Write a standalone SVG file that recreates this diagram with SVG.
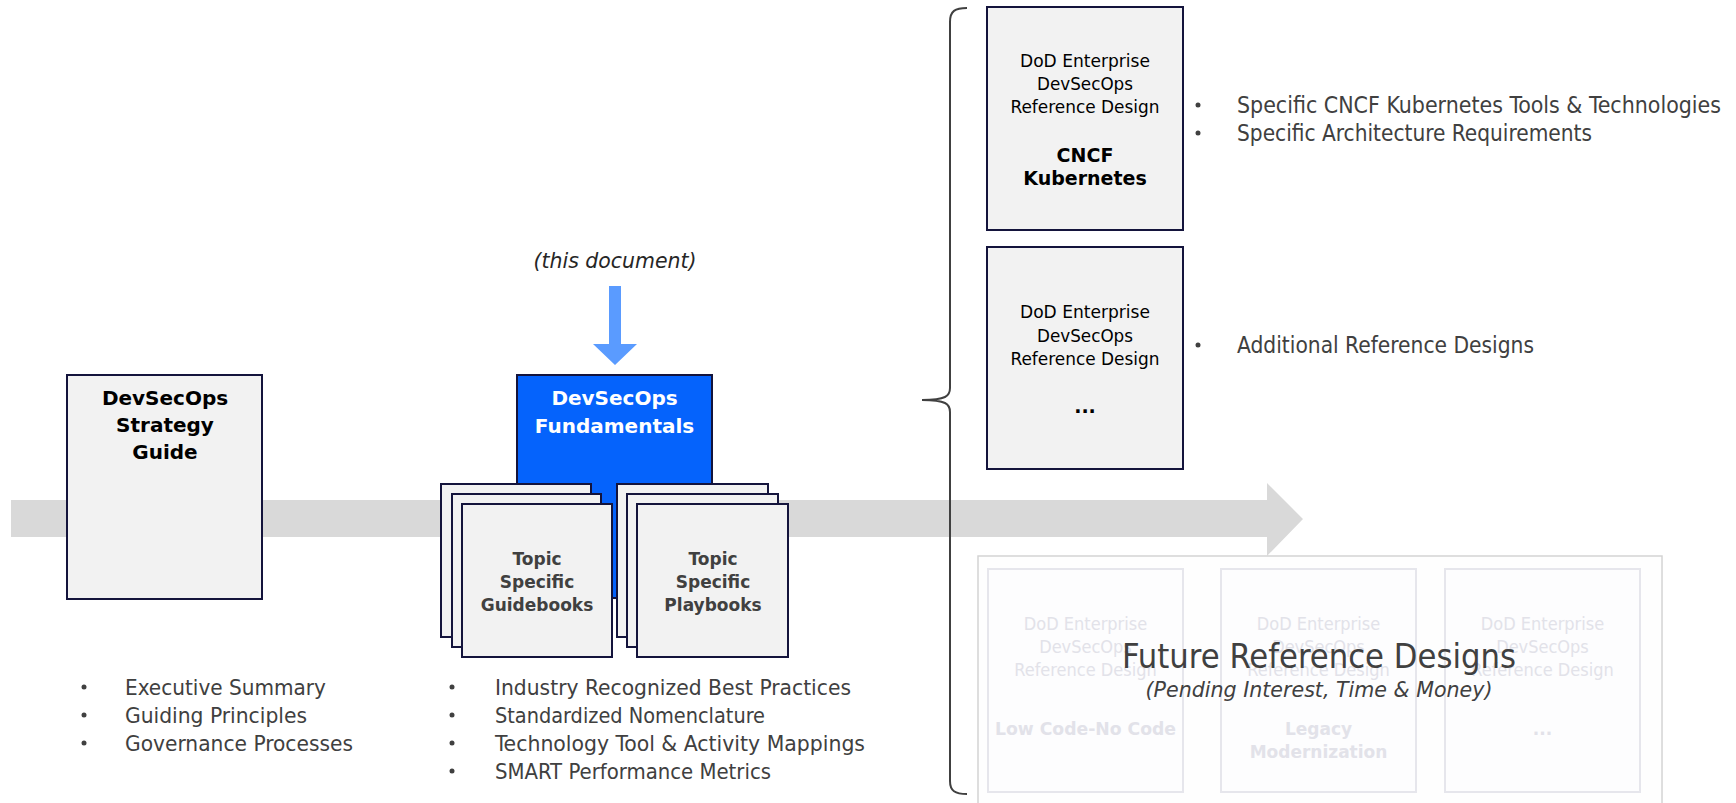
<svg xmlns="http://www.w3.org/2000/svg" width="1736" height="803" viewBox="0 0 1736 803">
<style>
.box{fill:#f2f2f2;stroke:#14143c;stroke-width:2}
.blue{fill:#0563fc;stroke:#14143c;stroke-width:2}
.faint{fill:#fdfdfe;stroke:#e6e6ec;stroke-width:2}
.reg{font-family:'DejaVu Sans Condensed','DejaVu Sans',sans-serif;font-stretch:condensed}
.bold{font-family:'DejaVu Sans','Liberation Sans',sans-serif;font-weight:bold}
.ital{font-family:'DejaVu Sans Condensed','DejaVu Sans',sans-serif;font-stretch:condensed;font-style:italic}
.dark{fill:#404040}
.blk{fill:#000}
.ft{fill:#e2e2e9}
.bul{fill:#404040}
</style>

<g id="connectors">
  <polygon fill="#d9d9d9" points="11,500 1267,500 1267,483 1303,519 1267,556 1267,537 11,537"/>
  <polygon fill="#5a9bff" points="609,286 621,286 621,344 637,344 615,365 593,344 609,344"/>
  <path fill="none" stroke="#404040" stroke-width="2" d="M967,8 C955,8 950,11 950,22 L950,388 C950,396 946,400 922,400 C946,400 950,404 950,412 L950,781 C950,791 955,794 967,794"/>
</g>

<g id="strategy-guide">
  <rect class="box" x="67" y="375" width="195" height="224"/>
  <text class="bold blk" font-size="20" text-anchor="middle" x="165" y="405">DevSecOps</text>
  <text class="bold blk" font-size="20" text-anchor="middle" x="165" y="432">Strategy</text>
  <text class="bold blk" font-size="20" text-anchor="middle" x="165" y="459">Guide</text>
</g>

<g id="this-document">
  <text class="ital" fill="#262626" font-size="21" text-anchor="middle" x="615" y="268" textLength="163" lengthAdjust="spacingAndGlyphs">(this document)</text>
</g>

<g id="fundamentals">
  <rect class="blue" x="517" y="375" width="195" height="223"/>
  <text class="bold" fill="#fff" font-size="20" text-anchor="middle" x="614.5" y="405">DevSecOps</text>
  <text class="bold" fill="#fff" font-size="20" text-anchor="middle" x="614.5" y="433">Fundamentals</text>
</g>

<g id="guidebooks">
  <rect class="box" x="441" y="484" width="150" height="153"/>
  <rect class="box" x="452" y="494" width="149" height="153"/>
  <rect class="box" x="462" y="504" width="150" height="153"/>
  <text class="bold dark" font-size="17" text-anchor="middle" x="537" y="565">Topic</text>
  <text class="bold dark" font-size="17" text-anchor="middle" x="537" y="588">Specific</text>
  <text class="bold dark" font-size="17" text-anchor="middle" x="537" y="611">Guidebooks</text>
</g>

<g id="playbooks">
  <rect class="box" x="617" y="484" width="151" height="153"/>
  <rect class="box" x="627" y="494" width="151" height="153"/>
  <rect class="box" x="637" y="504" width="151" height="153"/>
  <text class="bold dark" font-size="17" text-anchor="middle" x="713" y="565">Topic</text>
  <text class="bold dark" font-size="17" text-anchor="middle" x="713" y="588">Specific</text>
  <text class="bold dark" font-size="17" text-anchor="middle" x="713" y="611">Playbooks</text>
</g>

<g id="strategy-bullets">
  <circle class="bul" cx="84" cy="687" r="2.5"/>
  <circle class="bul" cx="84" cy="715" r="2.5"/>
  <circle class="bul" cx="84" cy="743" r="2.5"/>
  <text class="reg dark" font-size="22" x="125" y="695" textLength="201" lengthAdjust="spacingAndGlyphs">Executive Summary</text>
  <text class="reg dark" font-size="22" x="125" y="723" textLength="182" lengthAdjust="spacingAndGlyphs">Guiding Principles</text>
  <text class="reg dark" font-size="22" x="125" y="751" textLength="228" lengthAdjust="spacingAndGlyphs">Governance Processes</text>
</g>

<g id="fundamentals-bullets">
  <circle class="bul" cx="452" cy="687" r="2.5"/>
  <circle class="bul" cx="452" cy="715" r="2.5"/>
  <circle class="bul" cx="452" cy="743" r="2.5"/>
  <circle class="bul" cx="452" cy="771" r="2.5"/>
  <text class="reg dark" font-size="22" x="495" y="695" textLength="356" lengthAdjust="spacingAndGlyphs">Industry Recognized Best Practices</text>
  <text class="reg dark" font-size="22" x="495" y="723" textLength="270" lengthAdjust="spacingAndGlyphs">Standardized Nomenclature</text>
  <text class="reg dark" font-size="22" x="495" y="751" textLength="370" lengthAdjust="spacingAndGlyphs">Technology Tool &amp; Activity Mappings</text>
  <text class="reg dark" font-size="22" x="495" y="779" textLength="276" lengthAdjust="spacingAndGlyphs">SMART Performance Metrics</text>
</g>

<g id="cncf-kubernetes">
  <rect class="box" x="987" y="7" width="196" height="223"/>
  <text class="reg blk" font-size="18" text-anchor="middle" x="1085" y="67" textLength="130" lengthAdjust="spacingAndGlyphs">DoD Enterprise</text>
  <text class="reg blk" font-size="18" text-anchor="middle" x="1085" y="90" textLength="96" lengthAdjust="spacingAndGlyphs">DevSecOps</text>
  <text class="reg blk" font-size="18" text-anchor="middle" x="1085" y="113" textLength="149" lengthAdjust="spacingAndGlyphs">Reference Design</text>
  <text class="bold blk" font-size="19" text-anchor="middle" x="1085" y="162">CNCF</text>
  <text class="bold blk" font-size="19" text-anchor="middle" x="1085" y="185">Kubernetes</text>
</g>

<g id="additional-design">
  <rect class="box" x="987" y="247" width="196" height="222"/>
  <text class="reg blk" font-size="18" text-anchor="middle" x="1085" y="318" textLength="130" lengthAdjust="spacingAndGlyphs">DoD Enterprise</text>
  <text class="reg blk" font-size="18" text-anchor="middle" x="1085" y="342" textLength="96" lengthAdjust="spacingAndGlyphs">DevSecOps</text>
  <text class="reg blk" font-size="18" text-anchor="middle" x="1085" y="365" textLength="149" lengthAdjust="spacingAndGlyphs">Reference Design</text>
  <text class="bold blk" font-size="19" text-anchor="middle" x="1085" y="413">...</text>
</g>

<g id="design-bullets">
  <circle class="bul" cx="1198" cy="105" r="2.5"/>
  <circle class="bul" cx="1198" cy="133" r="2.5"/>
  <circle class="bul" cx="1198" cy="345" r="2.5"/>
  <text class="reg dark" font-size="23" x="1237" y="113" textLength="484" lengthAdjust="spacingAndGlyphs">Specific CNCF Kubernetes Tools &amp; Technologies</text>
  <text class="reg dark" font-size="23" x="1237" y="141" textLength="355" lengthAdjust="spacingAndGlyphs">Specific Architecture Requirements</text>
  <text class="reg dark" font-size="23" x="1237" y="353" textLength="297" lengthAdjust="spacingAndGlyphs">Additional Reference Designs</text>
</g>

<g id="future-designs">
  <rect x="978" y="556" width="684" height="252" fill="#fefefe" stroke="#d4d4d4" stroke-width="1.5"/>
  <g id="future-low-code">
    <rect class="faint" x="988" y="569" width="195" height="223"/>
    <text class="reg ft" font-size="18" text-anchor="middle" x="1085.5" y="630">DoD Enterprise</text>
    <text class="reg ft" font-size="18" text-anchor="middle" x="1085.5" y="653">DevSecOps</text>
    <text class="reg ft" font-size="18" text-anchor="middle" x="1085.5" y="676">Reference Design</text>
    <text class="bold ft" font-size="17" text-anchor="middle" x="1085.5" y="735" textLength="181" lengthAdjust="spacingAndGlyphs">Low Code-No Code</text>
  </g>
  <g id="future-legacy">
    <rect class="faint" x="1221" y="569" width="195" height="223"/>
    <text class="reg ft" font-size="18" text-anchor="middle" x="1318.5" y="630">DoD Enterprise</text>
    <text class="reg ft" font-size="18" text-anchor="middle" x="1318.5" y="653">DevSecOps</text>
    <text class="reg ft" font-size="18" text-anchor="middle" x="1318.5" y="676">Reference Design</text>
    <text class="bold ft" font-size="17" text-anchor="middle" x="1318.5" y="735">Legacy</text>
    <text class="bold ft" font-size="17" text-anchor="middle" x="1318.5" y="758">Modernization</text>
  </g>
  <g id="future-more">
    <rect class="faint" x="1445" y="569" width="195" height="223"/>
    <text class="reg ft" font-size="18" text-anchor="middle" x="1542.5" y="630">DoD Enterprise</text>
    <text class="reg ft" font-size="18" text-anchor="middle" x="1542.5" y="653">DevSecOps</text>
    <text class="reg ft" font-size="18" text-anchor="middle" x="1542.5" y="676">Reference Design</text>
    <text class="bold ft" font-size="17" text-anchor="middle" x="1542.5" y="735">...</text>
  </g>
  <text class="reg dark" font-size="34" text-anchor="middle" x="1319" y="668" textLength="394" lengthAdjust="spacingAndGlyphs">Future Reference Designs</text>
  <text class="ital dark" font-size="22" text-anchor="middle" x="1319" y="697" textLength="347" lengthAdjust="spacingAndGlyphs">(Pending Interest, Time &amp; Money)</text>
</g>
</svg>
